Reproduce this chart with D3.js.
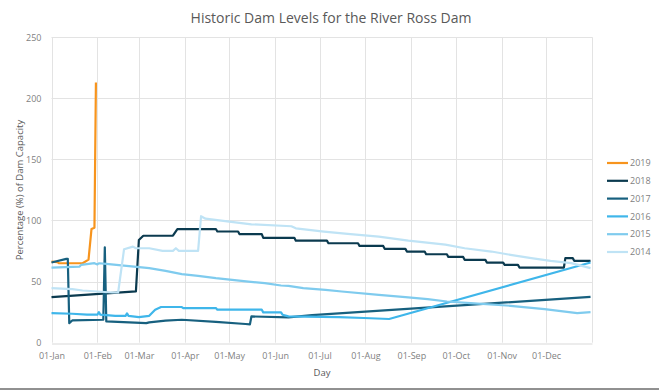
<!DOCTYPE html>
<html><head><meta charset="utf-8">
<script src="https://cdn.jsdelivr.net/npm/d3@7"></script>
<style>body{margin:0;background:#fff}svg{display:block;font-family:"Open Sans",Lato,sans-serif}</style>
</head><body>
<svg id="c" width="659" height="390"></svg>
<script>
const seriesNames = ["2019","2018","2017","2016","2015","2014"];
const seriesColors = ["#f7941d","#0b3a4f","#17607f","#3fb6ea","#7fcbee","#bfe3f5"];
const yTicks = [0,50,100,150,200,250];

const y2019 = [["01-01",66.4],["01-05",66],["01-06",65],["01-22",65],["01-26",68],["01-28",93],["01-30",94],["01-31",213]];
const y2018 = [["01-01",37.3],["02-27",42],["03-01",84],["03-04",87.5],["03-24",87.6],["03-27",93],["04-22",93],["04-23",91],["05-07",91],["05-08",88.8],["05-23",88.8],["05-24",85.8],["06-14",85.8],["06-15",83.5],["07-06",83.5],["07-07",81.4],["07-27",81.4],["07-28",79.2],["08-13",79.2],["08-14",76.8],["08-28",76.8],["08-29",74.6],["09-10",74.6],["09-11",72.4],["09-25",72.4],["09-26",70.2],["10-06",70.2],["10-07",67.8],["10-21",67.8],["10-22",65.6],["11-02",65.6],["11-03",63.7],["11-12",63.7],["11-13",61.5],["12-13",61.5],["12-14",69.2],["12-19",69.2],["12-20",67],["12-31",67]];
const y2017 = [["01-01",65.6],["01-11",68.6],["01-12",68.6],["01-13",16],["01-15",18.2],["02-05",18.8],["02-06",78],["02-07",17.4],["03-06",16],["03-08",16.6],["03-19",18],["03-30",18.8],["04-22",17.1],["05-12",15.3],["05-15",15],["05-16",21.5],["06-10",20.7],["06-26",22.5],["12-31",37.5]];
const y2016 = [["01-01",24.2],["01-15",23.7],["01-25",22.9],["02-01",22.9],["02-02",25],["02-03",22.9],["02-13",22],["02-20",22],["02-21",24],["02-22",22],["03-01",21],["03-08",22],["03-12",27],["03-16",29.2],["03-30",29.2],["03-31",28.3],["04-22",28.3],["04-23",27],["05-23",27],["05-24",24.8],["06-05",24.8],["06-06",22.9],["06-10",21.5],["07-14",21],["07-31",20.2],["08-17",19.4],["12-31",65.6]];
const y2015 = [["01-01",61.5],["01-20",62.3],["01-21",63.7],["01-30",65.1],["02-01",64],["02-02",65],["02-07",64.5],["03-08",61],["03-19",58.8],["03-30",56.1],["04-10",54.7],["04-22",52.8],["05-03",51.4],["05-14",50],["05-25",48.7],["06-05",46.8],["06-10",46.5],["06-20",44.6],["07-05",43.3],["07-16",41.9],["08-10",39.2],["08-28",37.3],["09-12",35.7],["09-25",33.7],["10-11",32.4],["11-07",30.2],["11-30",27.5],["12-22",24.2],["12-31",25]];
const y2014 = [["01-01",44.6],["01-15",43.8],["01-22",42.7],["02-11",41.1],["02-15",41.1],["02-19",76.5],["02-25",78.6],["02-27",77.3],["03-08",77.3],["03-17",75.1],["03-24",75.1],["03-26",77.3],["03-28",75.1],["04-10",75.1],["04-12",103.5],["04-15",101.5],["05-01",99.1],["05-16",96.9],["06-12",95.3],["06-15",93.6],["07-04",90.9],["07-20",89],["08-10",86.8],["08-30",83.5],["09-24",80.3],["10-07",77.3],["10-25",74.6],["11-07",71.9],["11-21",69.2],["12-04",67],["12-18",65.1],["12-31",61]];
const seriesData = [y2019,y2018,y2017,y2016,y2015,y2014];

const svg = d3.select("#c");
const parse = d3.timeParse("%Y-%m-%d");
const d0 = parse("2019-01-01"), d1 = parse("2020-01-01");
const x = d3.scaleTime().domain([d0,d1]).range([51.5,592]);
const y = d3.scaleLinear().domain([0,250]).range([342.7,37.2]);
const months = d3.timeMonth.range(d0,d1);

// grid
const grid = svg.append("g");
grid.selectAll("line.h").data(yTicks.slice(1)).join("line")
  .attr("x1",x(d0)).attr("x2",x(d1)).attr("y1",d=>Math.round(y(d))+0.5).attr("y2",d=>Math.round(y(d))+0.5)
  .attr("stroke","#e3e3e3").attr("stroke-width",1);
grid.selectAll("line.v").data(months.concat([d1])).join("line")
  .attr("x1",d=>Math.round(x(d))+0.5).attr("x2",d=>Math.round(x(d))+0.5).attr("y1",y(250)).attr("y2",y(0))
  .attr("stroke","#e3e3e3").attr("stroke-width",1);

// axes
const xa = svg.append("g").attr("transform",`translate(0,${Math.round(y(0))+0.5})`)
  .call(d3.axisBottom(x).tickValues(months).tickFormat(d3.timeFormat("%d-%b")).tickSize(0).tickPadding(9));
xa.select(".domain").attr("stroke","#d9d9d9");
xa.selectAll("text").attr("fill","#7f7f7f").style("font-size","9px").style("font-family","Open Sans, sans-serif");

const ya = svg.append("g").attr("transform",`translate(${x(d0)},0)`)
  .call(d3.axisLeft(y).tickValues(yTicks).tickSize(0).tickPadding(10));
ya.select(".domain").remove();
ya.selectAll("text").attr("fill","#7f7f7f").style("font-size","9px").style("font-family","Open Sans, sans-serif");

// lines
const line = d3.line().x(d=>x(parse("2019-"+d[0]))).y(d=>y(d[1]));
seriesData.forEach((s,i)=>{
  svg.append("path").datum(s).attr("d",line).attr("fill","none")
    .attr("stroke",seriesColors[i]).attr("stroke-width",2.2).attr("stroke-linejoin","round");
});

// title
svg.append("text").attr("x",331).attr("y",23).attr("text-anchor","middle")
  .attr("fill","#595959").style("font-size","14px").text("Historic Dam Levels for the River Ross Dam");
svg.append("text").attr("transform","translate(23,190) rotate(-90)").attr("text-anchor","middle")
  .attr("fill","#595959").style("font-size","9.5px").text("Percentage (%) of Dam Capacity");
svg.append("text").attr("x",322).attr("y",376).attr("text-anchor","middle")
  .attr("fill","#595959").style("font-size","9.5px").text("Day");

// legend
const lg = svg.append("g");
seriesNames.forEach((n,i)=>{
  const yy = 163 + i*17.8;
  lg.append("line").attr("x1",607).attr("x2",628).attr("y1",yy).attr("y2",yy)
    .attr("stroke",seriesColors[i]).attr("stroke-width",2.2);
  lg.append("text").attr("x",630).attr("y",yy+3.2).attr("fill","#7f7f7f").style("font-size","9px").text(n);
});

svg.append("line").attr("x1",0).attr("x2",659).attr("y1",389).attr("y2",389).attr("stroke","#222").attr("stroke-width",1);
</script>
</body></html>
